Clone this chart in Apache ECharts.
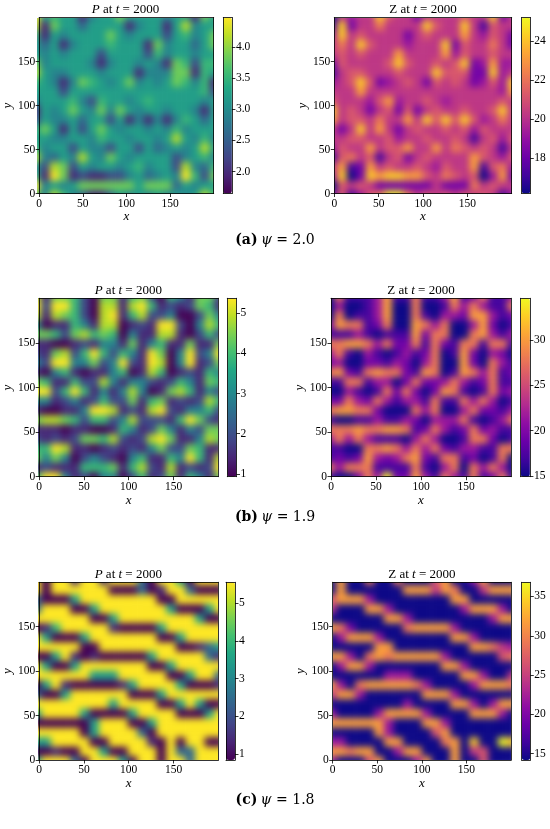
<!DOCTYPE html>
<html><head><meta charset="utf-8">
<script src="https://cdn.jsdelivr.net/npm/echarts@6/dist/echarts.min.js"></script>
<style>html,body{margin:0;padding:0;background:#fff}
#wrap{position:relative;width:550px;height:829px;background:#fff}
#c{position:absolute;left:0;top:0;width:550px;height:829px;z-index:2}
.hm{position:absolute;overflow:hidden;z-index:1}
.hm>div{position:absolute;filter:blur(3.5px)}
</style>
</head><body><div id="wrap"><div id="c"></div></div>
<script>
// ---- data: readings on a 20x20 grid (10 units per cell), rows from y=200 (top) down to y=0, digits 0..9 span the colorbar range
const P_psi20 = [
"9565 5145 5755 5545 5175","8175 5355 5514 5515 8455","6154 5555 7545 5525 6457","5351 4555 6555 1745 5357",
"5454 5552 5555 2645 5455","7455 5541 4554 5417 6266","8544 5554 5551 4447 7165","6541 4765 4574 5457 6461",
"5552 5555 5555 5555 5562","4555 6426 5545 6555 5545","1545 7547 4754 5545 5415","2544 5355 2514 1414 6535",
"5751 5257 5455 4546 4555","5544 5546 5545 5458 5464","6455 2544 2552 5345 4585","8435 4854 7545 5552 4564",
"5287 2545 5456 4552 8436","6197 1211 2245 3454 9627","9454 5777 7775 7773 5455","7486 4311 3545 4545 4586"];
const Z_psi20 = [
"0434 4854 4244 4454 4824","1824 4644 4485 4484 1544","3845 4444 2454 4474 3542","4648 5444 3444 8254 4642",
"4545 4447 4444 7354 4544","2544 4458 5445 4582 3733","1455 4445 4448 5552 2834","3458 5234 5425 4542 3538",
"4447 4444 4444 4444 4437","5444 3573 4454 3444 4454","8454 2452 5245 4454 4584","7455 4644 7485 8585 3464",
"4248 4742 4544 5453 5444","4455 4453 4454 4541 4535","3544 7455 7447 4654 5414","1564 5145 2454 4447 5435",
"4712 7454 4543 5447 1563","3802 8788 7754 6545 0372","0545 4222 2224 2226 4544","2513 5699 6454 5454 5413"];
const P_psi19 = [
"8177 6207 7167 2064 1772","9299 6208 8189 6121 2761","8187 6208 9168 2240 0274","4011 6418 8012 1992 0486",
"7762 7867 6041 1881 0262","1100 1214 4171 4611 7117","2178 2696 2641 9704 9249","4299 4472 4921 9804 9127",
"1046 1011 4601 8601 2164","7611 6228 4144 2126 4176","9926 9614 1484 0178 6142","4412 4126 2271 6712 1286",
"1001 1499 8121 8921 4462","7887 6266 2482 2216 9721","1110 1100 1641 2741 4277","2121 2776 8212 8971 1487",
"6698 1101 2121 4722 7611","7474 0242 1046 1164 9618","1211 1666 7168 2181 2129","6994 1204 4026 1271 6417"];
const Z_psi19 = [
"0611 1371 1611 3712 6113","0300 1370 0600 1636 3116","0601 1370 0610 3327 7312","2766 1260 0763 6003 7201",
"1113 1011 1726 6006 7313","6677 6362 2616 2166 1661","3610 3101 3126 0172 0320","2300 2213 2036 0072 0631",
"6721 6766 2176 0176 3612","1166 1330 2622 3631 2611","0031 0162 6202 7610 1623","2263 2631 3316 1163 6301",
"6776 6200 0636 0036 2213","1001 1311 3203 3361 0136","6667 6677 6126 3126 2311","3636 3111 0363 0016 6201",
"1100 6676 3636 2133 1166","1212 7323 6721 6612 0160","6366 6111 1610 3606 3630","1002 6392 2731 6316 1261"];
const P_psi18 = [
"9099 1991 9993 0995 0999","9099 9999 0003 0199 3000","3000 5999 9999 9009 9999","3999 0059 9999 9950 0059",
"9999 9900 5999 9999 9500","0169 9999 1000 0599 9999","9500 0599 9999 9005 9999","9999 9009 9999 9990 0135",
"0059 1010 0000 5999 9931","9500 5999 9999 0059 9999","9999 9955 5999 9900 5993","0591 0000 0159 9995 0001",
"3005 9999 9900 0599 9999","9999 9999 5999 9005 9500","5999 9500 0059 9990 0059","0000 0059 9900 5999 9999",
"9999 9059 9993 0999 9999","5599 9900 9999 1090 9900","0010 0995 0099 9093 3999","5999 3099 9509 9099 3999"];
const Z_psi18 = [
"0700 6006 0005 7003 7000","0700 0000 7774 7600 4777","5777 3000 0000 0770 0000","4000 7730 0000 0037 7730",
"0000 0077 3000 0000 0377","7620 0000 6777 7300 0000","0377 7300 0000 0773 0000","0000 0770 0000 0007 7643",
"7730 6767 7777 3000 0056","0377 3000 0000 7730 0000","0000 0033 3000 0077 3004","7306 7777 7630 0003 7776",
"4773 0000 0077 7300 0000","0000 0000 3000 0773 0377","3000 0377 7730 0007 7730","7777 7730 0077 3000 0000",
"0000 0730 0005 7000 0000","3300 0077 0000 6708 0098","7767 7003 7700 0704 5000","3000 5700 0370 0700 5000"];

// colorbar ranges (min, max) and tick labels
const rangeP20 = [1.65, 4.47], rangeZ20 = [16.2, 25.2];
const rangeP19 = [0.93, 5.37], rangeZ19 = [14.9, 34.6];
const rangeP18 = [0.84, 5.55], rangeZ18 = [14.2, 36.8];
const cbTicksP20 = [2.0, 2.5, 3.0, 3.5, 4.0], cbTicksZ20 = [18, 20, 22, 24];
const cbTicksP19 = [1, 2, 3, 4, 5], cbTicksZ19 = [15, 20, 25, 30];
const cbTicksP18 = [1, 2, 3, 4, 5], cbTicksZ18 = [15, 20, 25, 30, 35];
const axisMax = 200, axisStep = 50;
const captions = [["(a)", "2.0"], ["(b)", "1.9"], ["(c)", "1.8"]];

// ---- styles
const VIRIDIS = ['#440154','#482475','#414487','#355f8d','#2a788e','#21918c','#22a884','#44bf70','#7ad151','#bddf26','#fde725'];
const PLASMA  = ['#0d0887','#41049d','#6a00a8','#8f0da4','#b12a90','#cc4778','#e16462','#f2844b','#fca636','#fcce25','#f0f921'];
const FONT = "'Liberation Serif','DejaVu Serif',serif";
const lineStyle = {color:'#000', width:0.8};
const EXT = 6; // px margin of each smoothed heatmap layer beyond its clip box

const panels = [
 {name:'P', rows:P_psi20, range:rangeP20, ticks:cbTicksP20, dec:1, cmap:VIRIDIS, x:37.3, y:17.5, w:176.4, h:176, cbx:223.3, cbw:8.6},
 {name:'Z', rows:Z_psi20, range:rangeZ20, ticks:cbTicksZ20, dec:0, cmap:PLASMA,  x:334.3,y:17.5, w:177.4, h:176, cbx:521.7, cbw:8.6},
 {name:'P', rows:P_psi19, range:rangeP19, ticks:cbTicksP19, dec:0, cmap:VIRIDIS, x:38.3, y:298.3, w:180, h:178.4, cbx:227.3, cbw:9.2},
 {name:'Z', rows:Z_psi19, range:rangeZ19, ticks:cbTicksZ19, dec:0, cmap:PLASMA,  x:331,  y:298.3, w:180, h:178.4, cbx:520.7, cbw:9.2},
 {name:'P', rows:P_psi18, range:rangeP18, ticks:cbTicksP18, dec:0, cmap:VIRIDIS, x:38.3, y:582.3, w:180, h:177.7, cbx:226, cbw:9},
 {name:'Z', rows:Z_psi18, range:rangeZ18, ticks:cbTicksZ18, dec:0, cmap:PLASMA,  x:332.7,y:582.3, w:178.3, h:177.7, cbx:521.7, cbw:8.6}
];
const captionY = [240, 517, 800];

function toData(rows, range){
  const out = []; const n = rows.length;
  rows.forEach((s, r) => {
    const t = s.replace(/ /g, '');
    for (let c = 0; c < t.length; c++) {
      const d = +t[c];
      out.push([c, n - 1 - r, range[0] + d / 9 * (range[1] - range[0])]);
    }
  });
  return out;
}

const grid = [], xAxis = [], yAxis = [], series = [], visualMap = [], graphic = [];
const lab = {fontFamily:FONT, fontSize:11.5, color:'#000'};
const nameStyle = {fontFamily:FONT, fontSize:13, fontStyle:'italic', color:'#000'};
const wrap = document.getElementById('wrap');

panels.forEach((p, i) => {
  const n = p.rows.length;
  const cats = Array.from({length:n}, (_, k) => k);
  const data = toData(p.rows, p.range);

  // smoothed colour layer: its own small chart, clipped to the plot box
  const box = document.createElement('div');
  box.className = 'hm';
  Object.assign(box.style, {left:p.x+'px', top:p.y+'px', width:p.w+'px', height:p.h+'px'});
  const inner = document.createElement('div');
  Object.assign(inner.style, {left:(-EXT)+'px', top:(-EXT)+'px', width:(p.w+2*EXT)+'px', height:(p.h+2*EXT)+'px'});
  box.appendChild(inner); wrap.appendChild(box);
  const hc = echarts.init(inner, null, {renderer:'canvas'});
  hc.setOption({animation:false,
    grid:{left:0, right:0, top:0, bottom:0},
    xAxis:{type:'category', data:cats, show:false},
    yAxis:{type:'category', data:cats, show:false},
    visualMap:{type:'continuous', show:false, min:p.range[0], max:p.range[1], inRange:{color:p.cmap}},
    series:[{type:'heatmap', data, itemStyle:{borderWidth:0}, emphasis:{disabled:true}, progressive:0}]});

  const gi = grid.length;
  grid.push({left:p.x, top:p.y, width:p.w, height:p.h});
  grid.push({left:p.x, top:p.y, width:p.w, height:p.h});
  grid.push({left:p.cbx, top:p.y, width:p.cbw, height:p.h});
  const xi = xAxis.length, yi = yAxis.length;
  xAxis.push({type:'category', gridIndex:gi, data:cats, show:false});
  yAxis.push({type:'category', gridIndex:gi, data:cats, show:false});
  xAxis.push({type:'value', gridIndex:gi+1, min:0, max:axisMax, interval:axisStep, position:'bottom', z:5,
    axisLine:{show:true, onZero:false, lineStyle}, axisTick:{show:true, length:3.5, lineStyle},
    axisLabel:Object.assign({margin:4, showMaxLabel:false}, lab), splitLine:{show:false},
    name:'x', nameLocation:'middle', nameGap:15, nameTextStyle:nameStyle});
  xAxis.push({type:'value', gridIndex:gi+1, min:0, max:axisMax, position:'top', z:5,
    axisLine:{show:true, onZero:false, lineStyle}, axisTick:{show:false}, axisLabel:{show:false}, splitLine:{show:false}});
  yAxis.push({type:'value', gridIndex:gi+1, min:0, max:axisMax, interval:axisStep, position:'left', z:5,
    axisLine:{show:true, onZero:false, lineStyle}, axisTick:{show:true, length:3.5, lineStyle},
    axisLabel:Object.assign({margin:4, showMaxLabel:false}, lab), splitLine:{show:false},
    name:'y', nameLocation:'middle', nameGap:24, nameTextStyle:nameStyle});
  yAxis.push({type:'value', gridIndex:gi+1, min:0, max:axisMax, position:'right', z:5,
    axisLine:{show:true, onZero:false, lineStyle}, axisTick:{show:false}, axisLabel:{show:false}, splitLine:{show:false}});
  xAxis.push({type:'value', gridIndex:gi+2, min:0, max:1, position:'bottom', z:6,
    axisLine:{show:true, onZero:false, lineStyle}, axisTick:{show:false}, axisLabel:{show:false}, splitLine:{show:false}});
  xAxis.push({type:'value', gridIndex:gi+2, min:0, max:1, position:'top', z:6,
    axisLine:{show:true, onZero:false, lineStyle}, axisTick:{show:false}, axisLabel:{show:false}, splitLine:{show:false}});
  yAxis.push({type:'value', gridIndex:gi+2, min:p.range[0], max:p.range[1], position:'right', z:6,
    axisLine:{show:true, onZero:false, lineStyle},
    axisTick:{show:true, length:3.5, lineStyle, customValues:p.ticks},
    axisLabel:Object.assign({margin:4, customValues:p.ticks, formatter:v => (+v).toFixed(p.dec)}, lab),
    splitLine:{show:false}});
  yAxis.push({type:'value', gridIndex:gi+2, min:p.range[0], max:p.range[1], position:'left', z:6,
    axisLine:{show:true, onZero:false, lineStyle}, axisTick:{show:false}, axisLabel:{show:false}, splitLine:{show:false}});
  const si = series.length;
  // same cells on the main chart (transparent) so the colorbar is bound to them
  series.push({type:'heatmap', xAxisIndex:xi, yAxisIndex:yi, data, z:1, silent:true,
    itemStyle:{borderWidth:0, opacity:0}, emphasis:{disabled:true}, progressive:0});
  visualMap.push({type:'continuous', seriesIndex:si, min:p.range[0], max:p.range[1], calculable:false,
    orient:'vertical', left:p.cbx, top:p.y, itemWidth:p.cbw, itemHeight:p.h, padding:0, hoverLink:false,
    inRange:{color:p.cmap}, textStyle:{color:'transparent'}, text:null});
  const italicName = p.name === 'P';
  graphic.push({type:'text', x:p.x + p.w/2, y:p.y - 8, z:10, style:{
    text:(italicName ? '{i|P}' : '{n|Z}') + '{n| at }{i|t}{n| = 2000}',
    align:'center', verticalAlign:'middle',
    rich:{i:{fontFamily:FONT, fontSize:13, fontStyle:'italic', fill:'#000'}, n:{fontFamily:FONT, fontSize:13, fill:'#000'}}}});
});

captions.forEach((c, k) => {
  graphic.push({type:'text', x:275, y:captionY[k], z:10, style:{
    text:'{b|' + c[0] + '} {i|ψ}{n| = ' + c[1] + '}', align:'center', verticalAlign:'middle',
    rich:{b:{fontFamily:"'DejaVu Serif',serif", fontSize:14, fontWeight:'bold', fill:'#000'},
          i:{fontFamily:"'DejaVu Serif',serif", fontSize:14, fontStyle:'italic', fill:'#000'},
          n:{fontFamily:"'DejaVu Serif',serif", fontSize:14, fill:'#000'}}}});
});

const chart = echarts.init(document.getElementById('c'), null, {renderer:'canvas'});
chart.setOption({animation:false, grid, xAxis, yAxis, series, visualMap, graphic});
</script></body></html>
